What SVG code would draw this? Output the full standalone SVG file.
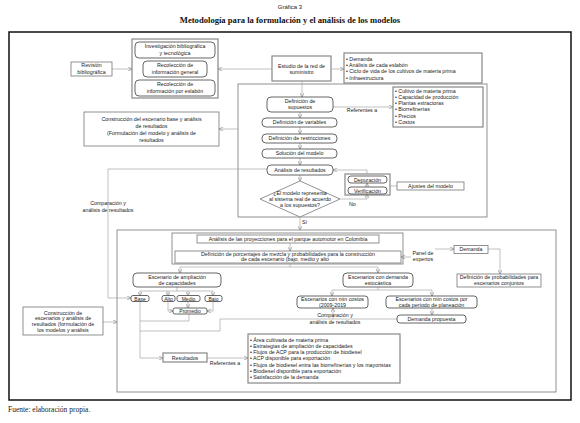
<svg xmlns="http://www.w3.org/2000/svg" width="580" height="423" viewBox="0 0 580 423">
<defs>
<marker id="ah" viewBox="0 0 6 6" refX="6" refY="3" markerWidth="4.5" markerHeight="4.5" orient="auto" markerUnits="userSpaceOnUse"><path d="M0,0 L6,3 L0,6" fill="none" stroke="#888" stroke-width="0.9"/></marker>
</defs>
<style>
text{font-family:"Liberation Sans",Arial,sans-serif;font-size:5.3px;fill:#222}
.c{text-anchor:middle}
.s{font-size:5px}
.b{fill:#fff;stroke:#777;stroke-width:0.8}
.r{fill:#fff;stroke:#555;stroke-width:0.9}
.g{fill:none;stroke:#888;stroke-width:1.2}
.ln{fill:none;stroke:#999;stroke-width:0.6}
.ar{fill:none;stroke:#999;stroke-width:0.6;marker-end:url(#ah)}
</style>
<rect width="580" height="423" fill="#fff"/>
<text class="c" x="290" y="8.5" style="font-size:6px">Gráfica 3</text>
<text class="c" x="290" y="23" style="font-family:'Liberation Serif','Times New Roman',serif;font-size:8.6px;font-weight:bold;fill:#111">Metodología para la formulación y el análisis de los modelos</text>
<rect x="9" y="32" width="562" height="368" fill="none" stroke="#111" stroke-width="1.5"/>
<text x="8" y="412" style="font-family:'Liberation Serif','Times New Roman',serif;font-size:7.5px;fill:#222">Fuente: elaboración propia.</text>

<g id="frames">
<rect x="238" y="84" width="249" height="133" class="b"/>
<rect x="117" y="230" width="439" height="162" class="b"/>
<rect x="172" y="233" width="231" height="31" class="b"/>
</g>

<g id="connectors">
<path class="ar" d="M112,69 H132"/>
<path class="ar" d="M272,69 H218"/>
<path class="ar" d="M331,69 H344"/>
<path class="ar" d="M302,81 V97"/>
<path class="ar" d="M333,107 H393"/>
<path class="ar" d="M300,112 V118"/>
<path class="ar" d="M300,127 V134"/>
<path class="ar" d="M300,143 V149"/>
<path class="ar" d="M300,158 V165"/>
<path class="ar" d="M300,175 V181"/>
<path class="ar" d="M340,199 H367 V194"/>
<path class="ar" d="M367,187 V183"/>
<path class="ar" d="M367,174 V170 H333"/>
<path class="ln" d="M390,186 H397"/>
<path class="ar" d="M238,129 H219"/>
<path class="ar" d="M267,169 H108 V298 H131"/>
<path class="ar" d="M300,217 V230"/>
<path class="ar" d="M290,243 V251"/>
<path class="ar" d="M411,257 H401"/>
<path class="ar" d="M435,249 H454"/>
<path class="ar" d="M488,249 H500 V274"/>
<path class="ln" d="M290,264 V267 M180,267 H378"/>
<path class="ar" d="M180,267 V273"/>
<path class="ar" d="M378,267 V273"/>
<path class="ln" d="M177,287 V291 M140,291 H213"/>
<path class="ar" d="M140,291 V296"/>
<path class="ar" d="M168,291 V296"/>
<path class="ar" d="M188,291 V296"/>
<path class="ar" d="M213,291 V296"/>
<path class="ar" d="M168,302 V311 H173"/>
<path class="ar" d="M213,302 V311 H207"/>
<path class="ar" d="M188,302 V308"/>
<path class="ln" d="M189,314 V321 H140"/>
<path class="ar" d="M140,301 V358 H163"/>
<path class="ln" d="M397,319 H220 V331 H140"/>
<path class="ar" d="M333,319 V308"/>
<path class="ln" d="M378,287 V290 M332,290 H432"/>
<path class="ar" d="M332,290 V296"/>
<path class="ar" d="M432,290 V296"/>
<path class="ar" d="M432,308 V315"/>
<path class="ar" d="M207,358 H248"/>
<path class="ar" d="M103,322 H117"/>
</g>

<g id="labels">
<text class="c" x="362" y="112">Referentes a</text>
<text x="349" y="206">No</text>
<text x="302" y="224">Sí</text>
<text class="c" x="108" y="205">Comparación y</text>
<text class="c" x="108" y="211.5">análisis de resultados</text>
<text class="c" x="423" y="255">Panel de</text>
<text class="c" x="423" y="261">expertos</text>
<text class="c" x="335" y="317">Comparación y</text>
<text class="c" x="335" y="324">análisis de resultados</text>
<text class="c" x="225" y="365">Referentes a</text>
</g>

<g id="revision"><rect x="71" y="62" width="41" height="14" class="b"/>
<text class="c" x="91.5" y="67.3">Revisión</text><text class="c" x="91.5" y="74">bibliográfica</text></g>

<g id="recoleccion">
<rect x="132" y="39" width="86" height="59" class="g"/>
<rect x="135" y="42" width="80" height="16" rx="4" class="r"/>
<text class="c" x="175" y="48.3">Investigación bibliográfica</text><text class="c" x="175" y="55">y tecnológica</text>
<rect x="143" y="61" width="64" height="16" rx="4" class="r"/>
<text class="c" x="175" y="67.3">Recolección de</text><text class="c" x="175" y="74">información general</text>
<rect x="135" y="80" width="80" height="16" rx="4" class="r"/>
<text class="c" x="175" y="86.3">Recolección de</text><text class="c" x="175" y="93">información por eslabón</text>
</g>

<g id="estudio"><rect x="272" y="56" width="59" height="25" class="g"/>
<text class="c" x="301.5" y="67.5">Estudio de la red de</text><text class="c" x="301.5" y="74">suministro</text></g>

<g id="lista1"><rect x="344" y="53" width="138" height="30" class="g"/>
<text x="346" y="61">• Demanda</text>
<text x="346" y="67">• Análisis de cada eslabón</text>
<text x="346" y="73.2">• Ciclo de vida de los cultivos de materia prima</text>
<text x="346" y="80">• Infraestructura</text></g>

<g id="supuestos"><rect x="267" y="97" width="66" height="15" rx="4" class="r"/>
<text class="c" x="300" y="103">Definición de</text><text class="c" x="300" y="109.4">supuestos</text></g>

<g id="lista2"><rect x="393" y="87" width="90" height="40" class="g"/>
<text x="395" y="93">• Cultivo de materia prima</text>
<text x="395" y="99.2">• Capacidad de producción</text>
<text x="395" y="105.2">• Plantas extractoras</text>
<text x="395" y="111.2">• Biorrefinerías</text>
<text x="395" y="117.5">• Precios</text>
<text x="395" y="123.5">• Costos</text></g>

<g id="variables"><rect x="262" y="118" width="75" height="9" rx="4" class="r"/><text class="c" x="299.5" y="124.4">Definición de variables</text></g>
<g id="restricciones"><rect x="262" y="134" width="75" height="9" rx="4" class="r"/><text class="c" x="299.5" y="140.4">Definición de restricciones</text></g>
<g id="solucion"><rect x="262" y="149" width="75" height="9" rx="4" class="r"/><text class="c" x="299.5" y="155.4">Solución del modelo</text></g>
<g id="analisis"><rect x="267" y="165" width="66" height="10" rx="4" class="r"/><text class="c" x="300" y="171.9">Análisis de resultados</text></g>

<g id="decision"><polygon points="300,181 340,199 300,217 260,199" class="b"/>
<text class="c" x="300" y="194.5">¿El modelo representa</text>
<text class="c" x="300" y="200.7">al sistema real de acuerdo</text>
<text class="c" x="300" y="206.8">a los supuestos?</text></g>

<g id="depver"><rect x="345" y="174" width="45" height="21" class="g"/>
<rect x="348" y="176" width="39" height="7" rx="3" class="r"/><text class="c" x="367.5" y="181.6">Depuración</text>
<rect x="348" y="187" width="39" height="7" rx="3" class="r"/><text class="c" x="367.5" y="192.6">Verificación</text></g>

<g id="ajustes"><rect x="397" y="182" width="67" height="8" class="b"/><text class="c" x="430.5" y="187.9">Ajustes del modelo</text></g>

<g id="escenarioBase"><rect x="84" y="112" width="135" height="34" class="b"/>
<text class="c" x="151.5" y="121">Construcción del escenario base y análisis</text>
<text class="c" x="151.5" y="128">de resultados</text>
<text class="c" x="151.5" y="135">(Formulación del modelo y análisis de</text>
<text class="c" x="151.5" y="142">resultados</text></g>

<g id="proyecciones"><rect x="197" y="235" width="182" height="8" class="b"/>
<text class="c" x="288" y="240.9">Análisis de las proyecciones para el parque automotor en Colombia</text></g>

<g id="porcentajes"><rect x="175" y="251" width="226" height="12" class="b"/>
<text class="c" x="288" y="255.6">Definición de porcentajes de mezcla y probabilidades para la construcción</text>
<text class="c" x="285" y="261.4">de cada escenario (bajo, medio y alto</text></g>

<g id="demanda"><rect x="454" y="245.5" width="34" height="8" class="b"/><text class="c" x="471" y="251.4">Demanda</text></g>

<g id="probabilidades"><rect x="457" y="274" width="84" height="13" class="b"/>
<text class="c" x="499" y="279.2">Definición de probabilidades para</text>
<text class="c" x="499" y="285.2">escenarios conjuntos</text></g>

<g id="ampliacion"><rect x="133" y="273" width="88" height="14" rx="4" class="r"/>
<text class="c" x="177" y="278.8">Escenario de ampliación</text>
<text class="c" x="177" y="285.2">de capacidades</text></g>

<g id="base"><rect x="131" y="295.5" width="18" height="6" rx="2" class="r"/><text class="c s" x="140" y="300.5">Base</text></g>
<g id="alto"><rect x="162" y="295.5" width="13" height="6" rx="2" class="r"/><text class="c s" x="168.5" y="300.5">Alto</text></g>
<g id="medio"><rect x="177" y="295.5" width="23" height="6" rx="2" class="r"/><text class="c s" x="188.5" y="300.5">Medio</text></g>
<g id="bajo"><rect x="205" y="295.5" width="17" height="6" rx="2" class="r"/><text class="c s" x="213.5" y="300.5">Bajo</text></g>
<g id="promedio"><rect x="173" y="308" width="34" height="6" rx="2" class="r"/><text class="c s" x="190" y="313">Promedio</text></g>

<g id="estocastica"><rect x="343" y="273" width="70" height="14" rx="4" class="r"/>
<text class="c" x="378" y="278.8">Escenarios con demanda</text>
<text class="c" x="378" y="285.2">estocástica</text></g>

<g id="mincostos1"><rect x="297" y="296" width="71" height="12" rx="3" class="r"/>
<text class="c" x="332.5" y="301.1">Escenarios con min costos</text>
<text class="c" x="332.5" y="306.9">(2009-2019</text></g>

<g id="mincostos2"><rect x="386" y="296" width="91" height="12" rx="3" class="r"/>
<text class="c" x="431.5" y="301.1">Escenarios con min costos por</text>
<text class="c" x="431.5" y="306.9">cada período de planeación</text></g>

<g id="propuesta"><rect x="397" y="315" width="69" height="8" rx="3" class="r"/><text class="c" x="431.5" y="320.9">Demanda propuesta</text></g>

<g id="escenarios"><rect x="23" y="307" width="80" height="28" class="b"/>
<text class="c" x="63" y="314.5">Construcción de</text>
<text class="c" x="63" y="320.3">escenarios y análisis de</text>
<text class="c" x="63" y="326">resultados (formulación de</text>
<text class="c" x="63" y="331.8">los modelos y análisis</text></g>

<g id="resultados"><rect x="163" y="353" width="44" height="9" class="g"/><text class="c" x="185" y="359.6">Resultados</text></g>

<g id="lista3"><rect x="248" y="334" width="152" height="49" class="g"/>
<text x="250" y="341.8">• Área cultivada de materia prima</text>
<text x="250" y="347.8">• Estrategias de ampliación de capacidades</text>
<text x="250" y="353.8">• Flujos de ACP para la producción de biodiesel</text>
<text x="250" y="360">• ACP disponible para exportación</text>
<text x="250" y="366.6">• Flujos de biodiesel entra las biorrefinerías y los mayoristas</text>
<text x="250" y="372.8">• Biodiesel disponible para exportación</text>
<text x="250" y="379">• Satisfacción de la demanda</text></g>
</svg>
